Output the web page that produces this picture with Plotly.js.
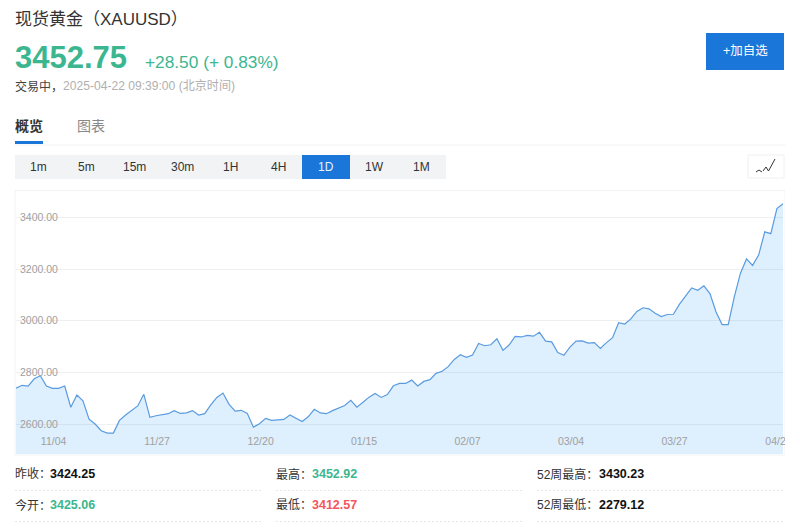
<!DOCTYPE html>
<html><head><meta charset="utf-8">
<script src="https://cdn.plot.ly/plotly-3.0.1.min.js"></script>
<style>html,body{margin:0;padding:0;background:#fff;overflow:hidden}#g{width:785px;height:531px;overflow:hidden}</style>
</head><body><div id="g"></div>
<script>
const dates = ["10/24","10/25","10/28","10/29","10/30","10/31","11/01","11/04","11/05","11/06","11/07","11/08","11/11","11/12","11/13","11/14","11/15","11/18","11/19","11/20","11/21","11/22","11/25","11/26","11/27","11/28","11/29","12/02","12/03","12/04","12/05","12/06","12/09","12/10","12/11","12/12","12/13","12/16","12/17","12/18","12/19","12/20","12/23","12/24","12/26","12/27","12/30","12/31","01/01","01/02","01/03","01/06","01/07","01/08","01/09","01/10","01/13","01/14","01/15","01/16","01/17","01/20","01/21","01/22","01/23","01/24","01/27","01/28","01/29","01/30","01/31","02/03","02/04","02/05","02/06","02/07","02/10","02/11","02/12","02/13","02/14","02/17","02/18","02/19","02/20","02/21","02/24","02/25","02/26","02/27","02/28","03/03","03/04","03/05","03/06","03/07","03/10","03/11","03/12","03/13","03/14","03/17","03/18","03/19","03/20","03/21","03/24","03/25","03/26","03/27","03/28","03/31","04/01","04/02","04/03","04/04","04/07","04/08","04/09","04/10","04/11","04/14","04/15","04/16","04/17","04/21","04/22"];
const closes = [2739,2750,2747,2775,2787,2747,2738,2738,2747,2665,2712,2690,2619,2600,2574,2565,2565,2614,2635,2654,2670,2715,2626,2632,2637,2640,2652,2641,2643,2652,2635,2640,2674,2703,2720,2676,2650,2653,2641,2588,2601,2622,2614,2617,2618,2635,2622,2610,2628,2657,2643,2640,2652,2663,2672,2692,2665,2684,2704,2718,2703,2714,2748,2757,2757,2770,2747,2765,2772,2796,2804,2822,2850,2868,2858,2867,2912,2903,2907,2930,2885,2906,2939,2937,2943,2940,2955,2921,2918,2877,2866,2898,2921,2922,2913,2915,2893,2915,2934,2992,2987,3007,3036,3050,3046,3029,3016,3024,3025,3064,3094,3127,3118,3135,3105,3034,2985,2985,3092,3183,3239,3214,3254,3344,3337,3434,3452.75];
const tickPositions = ["11/04","11/27","12/20","01/15","02/07","03/04","03/27",125.6];
const tickLabels = ["11/04","11/27","12/20","01/15","02/07","03/04","03/27","04/2"];
const intervals = ["1m","5m","15m","30m","1H","4H","1D","1W","1M"];
const statLabels = [["昨收：","今开："],["最高：","最低："],["52周最高：","52周最低："]];
const statValues = [["3424.25","3425.06"],["3452.92","3412.57"],["3430.23","2279.12"]];
const statColors = [["#111","#3cb68f"],["#3cb68f","#f2575d"],["#111","#111"]];

const FONT = '"Liberation Sans","Noto Sans CJK SC",sans-serif';
const L=16, R=783, T=191, B=454, W=785, H=531;
const px = x => (x-L)/(R-L), py = y => (B-y)/(B-T);
const ann = (text,x,y,size,color,anchor) => ({text,x:px(x),y:py(y),xref:'paper',yref:'paper',showarrow:false,
  xanchor:anchor||'left',yanchor:'middle',borderpad:0,borderwidth:0,font:{family:FONT,size,color}});
const rect = (x0,y0,x1,y1,fill,line,dash) => ({type:'rect',xref:'paper',yref:'paper',x0:px(x0),x1:px(x1),y0:py(y0),y1:py(y1),
  fillcolor:fill,line:{color:line||'rgba(0,0,0,0)',width:line?1:0,dash:dash||'solid'},layer:'below'});
const hline = (x0,x1,y,color,dash) => ({type:'line',xref:'paper',yref:'paper',x0:px(x0),x1:px(x1),y0:py(y),y1:py(y),
  line:{color,width:1,dash:dash||'solid'},layer:'below'});
const poly = pts => ({type:'path',xref:'paper',yref:'paper',path:pts.map((p,i)=>(i?'L':'M')+px(p[0])+','+py(p[1])).join(' '),
  line:{color:'#333',width:1},fillcolor:'rgba(0,0,0,0)',layer:'above'});

const annotations = [
  ann('现货黄金（XAUUSD）',15,19,17,'#333'),
  ann('<b>3452.75</b>',15,57,31,'#3cb68f'),
  ann('+28.50 (+ 0.83%)',145,62,17.3,'#3cb68f'),
  ann('交易中，',15,86,12,'#444'),
  ann('2025-04-22 09:39:00 (北京时间)',63,86,12.1,'#b0b0b0'),
  ann('<b>概览</b>',15,126,14,'#333'),
  ann('图表',77,126,14,'#888'),
  ann('+加自选',745,51,12.5,'#fff','center')
];
intervals.forEach((t,i)=>annotations.push(ann(t,38+48*i,167,12,t==='1D'?'#e8f1fb':'#333','center')));
const colX=[15,276,537], valX=[50,312,599], rowY=[474,505];
statLabels.forEach((col,c)=>col.forEach((t,r)=>{
  annotations.push(ann(t,colX[c],rowY[r],12,'#333'));
  annotations.push(ann('<b>'+statValues[c][r]+'</b>',valX[c],rowY[r],12.5,statColors[c][r]));
}));

const shapes = [
  rect(706,33,784,70,'#1a76d8'),
  rect(15,141,43,144,'#1a76d8'),
  hline(15,785,145,'#f2f2f2'),
  rect(15,155,446,179,'#f2f3f5'),
  rect(302,155,350,179,'#1a76d8'),
  rect(748,155,784,178,'#fff','#f0f0f0'),
  poly([[756,172],[759,170],[762,172]]),
  poly([[763,171],[766,167],[768.5,171],[775,159]]),
  rect(15,190.5,785,455,'rgba(0,0,0,0)','#f2f2f2'),
  hline(15,263,490.5,'#e6e6e6','2px,2px'), hline(15,263,521.5,'#e6e6e6','2px,2px'),
  hline(276,523,490.5,'#e6e6e6','2px,2px'), hline(276,523,521.5,'#e6e6e6','2px,2px'),
  hline(537,785,490.5,'#e6e6e6','2px,2px'), hline(537,785,521.5,'#e6e6e6','2px,2px')
];

Plotly.newPlot('g',[{
  type:'scatter',mode:'lines',x:dates,y:closes,fill:'tozeroy',
  fillcolor:'rgba(33,150,243,0.15)',line:{color:'#5a9be0',width:1.2},hoverinfo:'skip'
}],{
  width:W,height:H,autosize:false,showlegend:false,
  paper_bgcolor:'#fff',plot_bgcolor:'#fff',
  margin:{l:L,r:W-R,t:T,b:H-B,pad:0},
  font:{family:FONT},
  xaxis:{type:'category',range:[0,dates.length-1],tickmode:'array',tickvals:tickPositions,ticktext:tickLabels,
    categoryorder:'array',categoryarray:dates,
    showgrid:false,zeroline:false,showline:false,ticks:'',ticklabelposition:'inside',ticklabeloverflow:'allow',
    ticklabelshift:-5,ticklabelstandoff:4,tickangle:0,tickfont:{family:FONT,size:10.5,color:'#a0a0a0'},automargin:false},
  yaxis:{range:[2484,3502],tick0:2600,dtick:200,tickformat:'.2f',showgrid:true,gridcolor:'#efefef',gridwidth:1,
    zeroline:false,showline:false,ticks:'',ticklabelposition:'inside',ticklabeloverflow:'allow',ticklabelstandoff:1,
    tickfont:{family:FONT,size:10.5,color:'#a0a0a0'},automargin:false},
  shapes,annotations
},{displayModeBar:false,staticPlot:true,responsive:false});
</script></body></html>
